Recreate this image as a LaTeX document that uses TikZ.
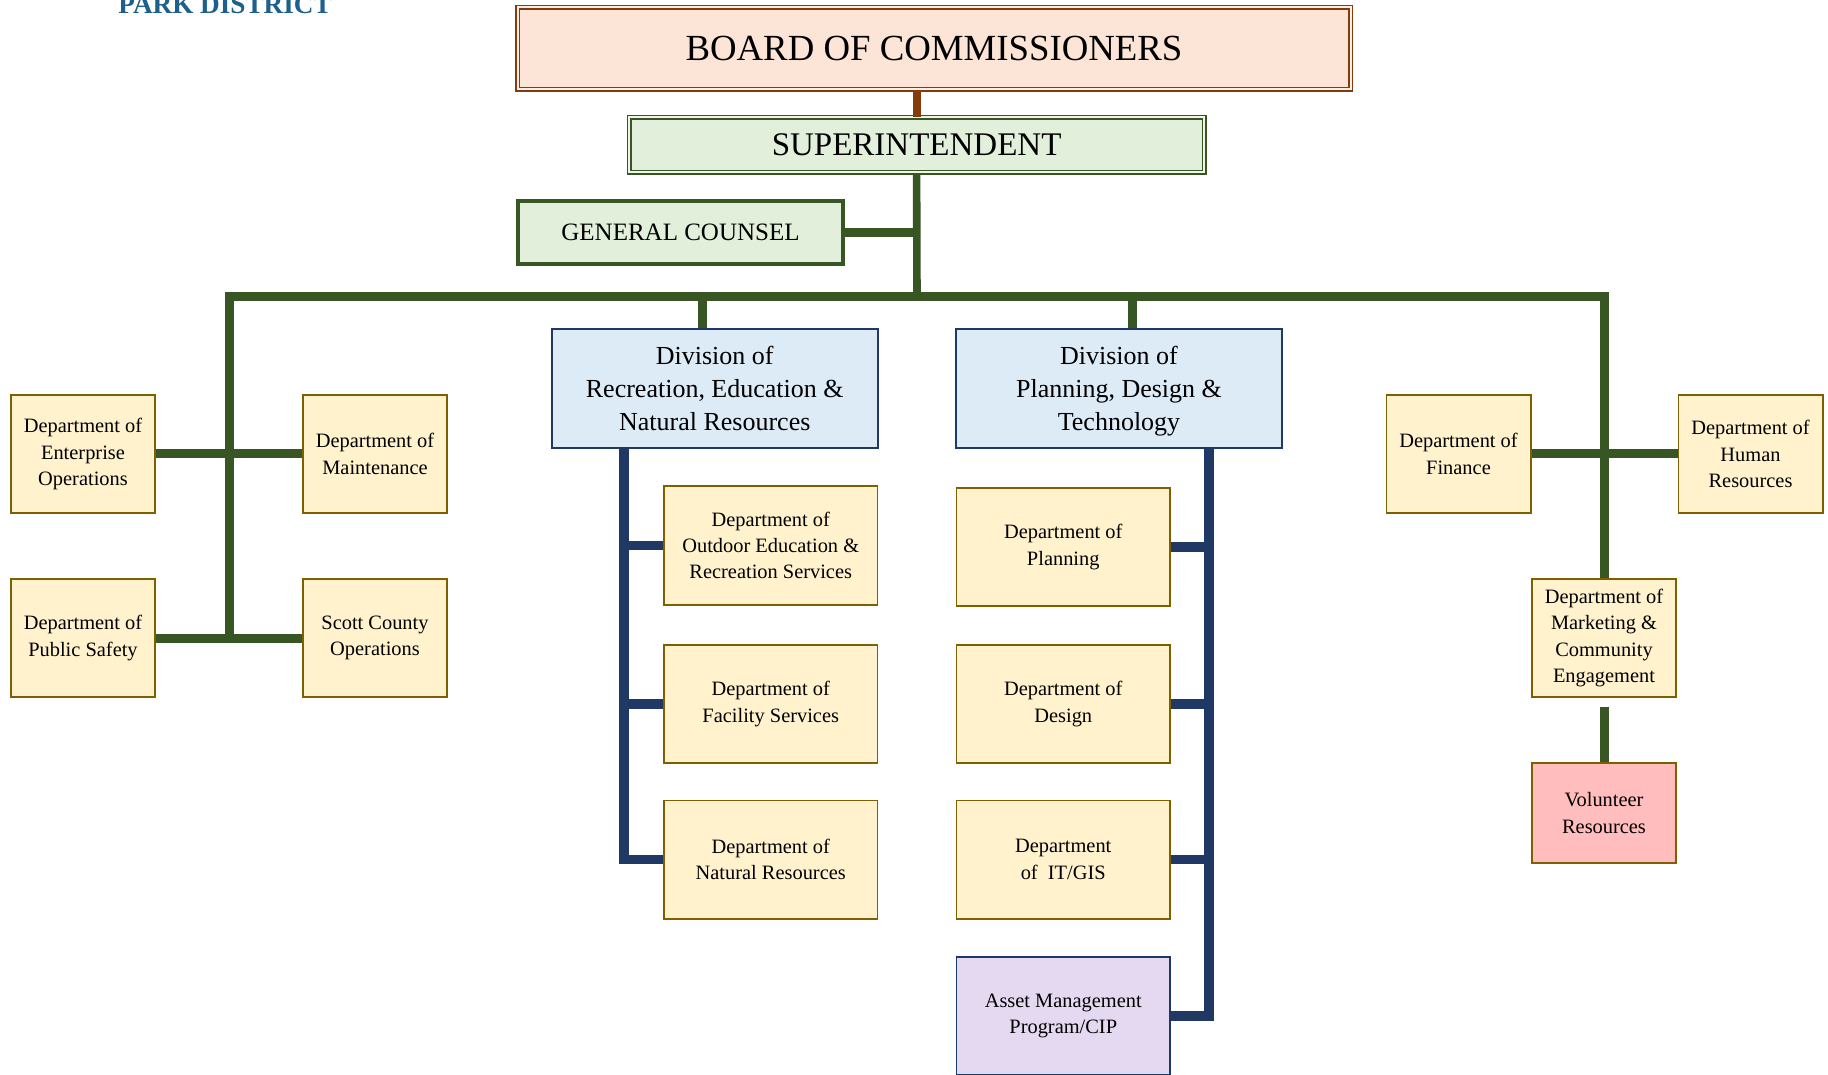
\documentclass[tikz,border=0pt]{standalone}
\usepackage{fontspec}
\setmainfont{Liberation Serif}
\definecolor{gline}{HTML}{375623}
\definecolor{bline}{HTML}{1F3864}
\definecolor{brn}{HTML}{843C0C}
\definecolor{boardfill}{HTML}{FCE4D6}
\definecolor{greenfill}{HTML}{E2EFDA}
\definecolor{divfill}{HTML}{DDEBF7}
\definecolor{deptfill}{HTML}{FFF2CC}
\definecolor{deptbrd}{HTML}{7F6000}
\definecolor{assetfill}{HTML}{E4D9F1}
\definecolor{volfill}{HTML}{FFBDBD}
\definecolor{parkblue}{HTML}{1F5F8B}
\begin{document}
\begin{tikzpicture}[x=0.5pt,y=-0.5pt,
  boardbox/.style={draw=brn, double=boardfill!60!white, line width=0.8pt, double distance=1pt, fill=boardfill, inner sep=0pt, font=\fontsize{18.4}{22}\selectfont},
  superbox/.style={draw=gline, double=greenfill!60!white, line width=0.8pt, double distance=1pt, fill=greenfill, inner sep=0pt, font=\fontsize{16.5}{20}\selectfont},
  counselbox/.style={draw=gline, line width=2pt, fill=greenfill, inner sep=0pt, font=\fontsize{12.5}{15}\selectfont},
  divbox/.style={draw=bline, line width=1pt, fill=divfill, inner sep=0pt, align=center, minimum width=162.75pt, minimum height=59.5pt, font=\fontsize{13}{16.5}\selectfont},
  deptbox/.style={draw=deptbrd, line width=0.8pt, fill=deptfill, inner sep=0pt, align=center, minimum height=59.2pt, font=\fontsize{10.2}{13.2}\selectfont},
  narrowdept/.style={deptbox, minimum width=72.2pt},
  widedept/.style={deptbox, minimum width=106.7pt},
  gconn/.style={draw=gline, line width=4.5pt},
  bconn/.style={draw=bline, line width=4.75pt},
]
\useasboundingbox (0,0) rectangle (1828,1075);

\node[anchor=base west, text=parkblue, font=\bfseries\fontsize{13.6}{15}\selectfont, inner sep=0pt] (park) at (118,14) {PARK DISTRICT};

\node[boardbox, minimum width=416.5pt, minimum height=41pt] (board) at (934,48.5) {BOARD OF COMMISSIONERS};
\node[superbox, minimum width=287.5pt, minimum height=27.5pt] (super) at (916.6,145) {SUPERINTENDENT};
\node[counselbox, minimum width=162.5pt, minimum height=31.5pt] (counsel) at (680.5,232.5) {GENERAL COUNSEL};

\node[divbox] (div1) at (714.75,388.5) {Division of\\Recreation, Education \&\\Natural Resources};
\node[divbox] (div2) at (1119,388.5) {Division of\\Planning, Design \&\\\raisebox{0pt}[\height][0pt]{Technology}};

\node[narrowdept] (ent) at (83,454) {Department of\\Enterprise\\Operations};
\node[narrowdept] (maint) at (375,454) {Department of\\Maintenance};
\node[narrowdept] (ps) at (83,638) {Department of\\Public Safety};
\node[narrowdept] (scott) at (375,638) {Scott County\\Operations};

\node[widedept] (out) at (770.75,545.5) {Department of\\Outdoor Education \&\\Recreation Services};
\node[widedept] (fac) at (770.75,704) {Department of\\Facility Services};
\node[widedept] (nat) at (770.75,859.5) {Department of\\Natural Resources};

\node[widedept] (plan) at (1063.25,547) {Department of\\Planning};
\node[widedept] (des) at (1063.25,704) {Department of\\Design};
\node[widedept] (it) at (1063.25,859.5) {Department\\of\enspace IT/GIS};
\node[widedept, draw=bline, fill=assetfill] (asset) at (1063.25,1016) {Asset Management\\Program/CIP};

\node[narrowdept] (fin) at (1458.5,454) {Department of\\Finance};
\node[narrowdept] (hr) at (1750.5,454) {Department of\\Human\\Resources};
\node[narrowdept] (mkt) at (1604,638) {Department of\\Marketing \&\\Community\\Engagement};
\node[narrowdept, fill=volfill, minimum height=50.2pt] (vol) at (1604,813) {Volunteer\\Resources};

\coordinate (j) at (917,297);
\coordinate (barL) at (229,297);
\coordinate (barR) at (1604,297);
\coordinate (b1) at (702,297);
\coordinate (b2) at (1132,297);
\coordinate (v1) at (624,0);
\coordinate (v2) at (1209,0);

% connectors
\draw[draw=brn, line width=4pt] (board.south -| super.north) -- (super.north);
\draw[gconn, line width=3.8pt] (super.south) -- (j);
\draw[gconn] (counsel.east) -- (counsel.east -| j);
\draw[gconn] (barL |- ps.east) -- (barL) -- (barR) -- (mkt.north);
\draw[gconn] (b1) -- (b1 |- div1.north);
\draw[gconn] (b2) -- (b2 |- div2.north);
\draw[gconn] (ent.east) -- (maint.west);
\draw[gconn] (ps.east) -- (scott.west);
\draw[gconn] (fin.east) -- (hr.west);
\draw[gconn] ([yshift=-4.5pt]mkt.south) -- (vol.north);

\draw[bconn] (v1 |- div1.south) -- (v1 |- nat.west) -- (nat.west);
\draw[bconn] (v1 |- out.west) -- (out.west);
\draw[bconn] (v1 |- fac.west) -- (fac.west);
\draw[bconn] (v2 |- div2.south) -- (v2 |- asset.east) -- (asset.east);
\draw[bconn] (v2 |- plan.east) -- (plan.east);
\draw[bconn] (v2 |- des.east) -- (des.east);
\draw[bconn] (v2 |- it.east) -- (it.east);
\end{tikzpicture}
\end{document}
